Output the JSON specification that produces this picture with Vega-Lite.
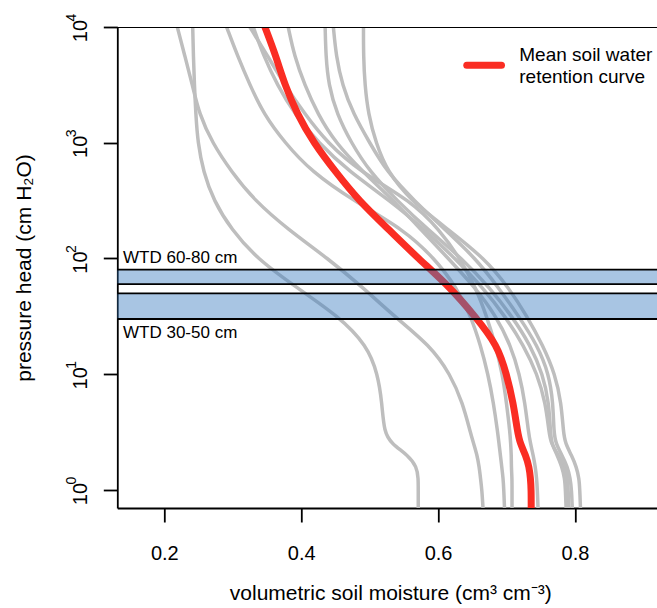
{
"$schema": "https://vega.github.io/schema/vega-lite/v6.json",
"width": 539.7, "height": 481,
"autosize": "none",
"padding": {"left": 117.3, "top": 27, "right": 0, "bottom": 100},
"background": "white",
"config": {"view": {"stroke": null}, "font": "Liberation Sans",
  "axis": {"domainColor": "black", "tickColor": "black", "labelColor": "black", "titleColor": "black", "domainWidth": 1.8, "tickWidth": 1.8, "grid": false, "titleFontWeight": "normal", "labelFlush": false, "labelOverlap": false, "labelBound": false}},
"datasets": {
"curves": [
{"c":"A","h":10000,"t":0.2415},{"c":"A","h":5623,"t":0.2425},{"c":"A","h":3162,"t":0.244},{"c":"A","h":1778,"t":0.246},{"c":"A","h":1000,"t":0.249},{"c":"A","h":562.3,"t":0.257},{"c":"A","h":316.2,"t":0.272},{"c":"A","h":177.8,"t":0.298},{"c":"A","h":100,"t":0.335},{"c":"A","h":56.23,"t":0.393},{"c":"A","h":31.62,"t":0.455},{"c":"A","h":17.78,"t":0.496},{"c":"A","h":10,"t":0.512},{"c":"A","h":5.623,"t":0.518},{"c":"A","h":3.162,"t":0.521},{"c":"A","h":2.512,"t":0.532},{"c":"A","h":1.995,"t":0.556},{"c":"A","h":1.585,"t":0.569},{"c":"A","h":1.259,"t":0.571},{"c":"A","h":1,"t":0.571},{"c":"A","h":0.699,"t":0.571},
{"c":"B","h":10000,"t":0.219},{"c":"B","h":5623,"t":0.230},{"c":"B","h":3162,"t":0.241},{"c":"B","h":1778,"t":0.251},{"c":"B","h":1000,"t":0.270},{"c":"B","h":562.3,"t":0.298},{"c":"B","h":316.2,"t":0.332},{"c":"B","h":177.8,"t":0.381},{"c":"B","h":100,"t":0.439},{"c":"B","h":56.23,"t":0.490},{"c":"B","h":31.62,"t":0.536},{"c":"B","h":17.78,"t":0.588},{"c":"B","h":10,"t":0.618},{"c":"B","h":5.623,"t":0.636},{"c":"B","h":3.162,"t":0.647},{"c":"B","h":2.512,"t":0.652},{"c":"B","h":1.995,"t":0.657},{"c":"B","h":1.585,"t":0.660},{"c":"B","h":1.259,"t":0.662},{"c":"B","h":1,"t":0.664},{"c":"B","h":0.699,"t":0.6656},
{"c":"C","h":10000,"t":0.291},{"c":"C","h":5623,"t":0.307},{"c":"C","h":3162,"t":0.325},{"c":"C","h":1778,"t":0.345},{"c":"C","h":1000,"t":0.376},{"c":"C","h":562.3,"t":0.415},{"c":"C","h":316.2,"t":0.476},{"c":"C","h":177.8,"t":0.55},{"c":"C","h":100,"t":0.595},{"c":"C","h":56.23,"t":0.627},{"c":"C","h":31.62,"t":0.648},{"c":"C","h":17.78,"t":0.662},{"c":"C","h":10,"t":0.673},{"c":"C","h":5.623,"t":0.681},{"c":"C","h":3.162,"t":0.687},{"c":"C","h":2.512,"t":0.689},{"c":"C","h":1.995,"t":0.691},{"c":"C","h":1.585,"t":0.693},{"c":"C","h":1.259,"t":0.695},{"c":"C","h":1,"t":0.696},{"c":"C","h":0.699,"t":0.697},
{"c":"D","h":10000,"t":0.325},{"c":"D","h":5623,"t":0.351},{"c":"D","h":3162,"t":0.376},{"c":"D","h":1778,"t":0.405},{"c":"D","h":1000,"t":0.438},{"c":"D","h":562.3,"t":0.486},{"c":"D","h":316.2,"t":0.560},{"c":"D","h":177.8,"t":0.602},{"c":"D","h":100,"t":0.632},{"c":"D","h":56.23,"t":0.655},{"c":"D","h":31.62,"t":0.671},{"c":"D","h":17.78,"t":0.684},{"c":"D","h":10,"t":0.694},{"c":"D","h":5.623,"t":0.700},{"c":"D","h":3.162,"t":0.705},{"c":"D","h":2.512,"t":0.706},{"c":"D","h":1.995,"t":0.707},{"c":"D","h":1.585,"t":0.707},{"c":"D","h":1.259,"t":0.708},{"c":"D","h":1,"t":0.708},{"c":"D","h":0.699,"t":0.708},
{"c":"D2","h":10000,"t":0.33},{"c":"D2","h":5623,"t":0.345},{"c":"D2","h":3162,"t":0.365},{"c":"D2","h":1778,"t":0.39},{"c":"D2","h":1000,"t":0.425},{"c":"D2","h":562.3,"t":0.47},{"c":"D2","h":316.2,"t":0.53},{"c":"D2","h":177.8,"t":0.58},{"c":"D2","h":100,"t":0.625},{"c":"D2","h":56.23,"t":0.665},{"c":"D2","h":31.62,"t":0.698},{"c":"D2","h":17.78,"t":0.725},{"c":"D2","h":10,"t":0.745},{"c":"D2","h":5.623,"t":0.757},{"c":"D2","h":3.162,"t":0.762},{"c":"D2","h":2.512,"t":0.765},{"c":"D2","h":1.995,"t":0.776},{"c":"D2","h":1.585,"t":0.785},{"c":"D2","h":1.259,"t":0.789},{"c":"D2","h":1,"t":0.790},{"c":"D2","h":0.699,"t":0.791},
{"c":"E","h":10000,"t":0.381},{"c":"E","h":5623,"t":0.390},{"c":"E","h":3162,"t":0.405},{"c":"E","h":1778,"t":0.424},{"c":"E","h":1000,"t":0.45},{"c":"E","h":562.3,"t":0.49},{"c":"E","h":316.2,"t":0.535},{"c":"E","h":177.8,"t":0.575},{"c":"E","h":100,"t":0.615},{"c":"E","h":56.23,"t":0.654},{"c":"E","h":31.62,"t":0.685},{"c":"E","h":17.78,"t":0.706},{"c":"E","h":10,"t":0.719},{"c":"E","h":5.623,"t":0.727},{"c":"E","h":3.162,"t":0.732},{"c":"E","h":2.512,"t":0.735},{"c":"E","h":1.995,"t":0.739},{"c":"E","h":1.585,"t":0.742},{"c":"E","h":1.259,"t":0.744},{"c":"E","h":1,"t":0.745},{"c":"E","h":0.699,"t":0.746},
{"c":"F","h":10000,"t":0.435},{"c":"F","h":5623,"t":0.436},{"c":"F","h":3162,"t":0.44},{"c":"F","h":1778,"t":0.452},{"c":"F","h":1000,"t":0.473},{"c":"F","h":562.3,"t":0.5},{"c":"F","h":316.2,"t":0.54},{"c":"F","h":177.8,"t":0.585},{"c":"F","h":100,"t":0.635},{"c":"F","h":56.23,"t":0.675},{"c":"F","h":31.62,"t":0.708},{"c":"F","h":17.78,"t":0.735},{"c":"F","h":10,"t":0.753},{"c":"F","h":5.623,"t":0.762},{"c":"F","h":3.162,"t":0.764},{"c":"F","h":2.512,"t":0.766},{"c":"F","h":1.995,"t":0.774},{"c":"F","h":1.585,"t":0.781},{"c":"F","h":1.259,"t":0.785},{"c":"F","h":1,"t":0.786},{"c":"F","h":0.699,"t":0.787},
{"c":"G","h":10000,"t":0.447},{"c":"G","h":5623,"t":0.451},{"c":"G","h":3162,"t":0.46},{"c":"G","h":1778,"t":0.476},{"c":"G","h":1000,"t":0.5},{"c":"G","h":562.3,"t":0.525},{"c":"G","h":316.2,"t":0.565},{"c":"G","h":177.8,"t":0.61},{"c":"G","h":100,"t":0.655},{"c":"G","h":56.23,"t":0.688},{"c":"G","h":31.62,"t":0.718},{"c":"G","h":17.78,"t":0.745},{"c":"G","h":10,"t":0.762},{"c":"G","h":5.623,"t":0.768},{"c":"G","h":3.162,"t":0.769},{"c":"G","h":2.512,"t":0.772},{"c":"G","h":1.995,"t":0.781},{"c":"G","h":1.585,"t":0.789},{"c":"G","h":1.259,"t":0.793},{"c":"G","h":1,"t":0.795},{"c":"G","h":0.699,"t":0.796},
{"c":"H","h":10000,"t":0.491},{"c":"H","h":5623,"t":0.491},{"c":"H","h":3162,"t":0.493},{"c":"H","h":1778,"t":0.498},{"c":"H","h":1000,"t":0.509},{"c":"H","h":562.3,"t":0.526},{"c":"H","h":316.2,"t":0.56},{"c":"H","h":177.8,"t":0.615},{"c":"H","h":100,"t":0.668},{"c":"H","h":56.23,"t":0.703},{"c":"H","h":31.62,"t":0.73},{"c":"H","h":17.78,"t":0.753},{"c":"H","h":10,"t":0.771},{"c":"H","h":5.623,"t":0.780},{"c":"H","h":3.162,"t":0.783},{"c":"H","h":2.512,"t":0.786},{"c":"H","h":1.995,"t":0.795},{"c":"H","h":1.585,"t":0.802},{"c":"H","h":1.259,"t":0.806},{"c":"H","h":1,"t":0.807},{"c":"H","h":0.699,"t":0.808}
],
"mean": [
{"c":"M","h":10000,"t":0.347},{"c":"M","h":5623,"t":0.363},{"c":"M","h":3162,"t":0.376},{"c":"M","h":1778,"t":0.394},{"c":"M","h":1000,"t":0.418},{"c":"M","h":562.3,"t":0.450},{"c":"M","h":316.2,"t":0.484},{"c":"M","h":177.8,"t":0.528},{"c":"M","h":100,"t":0.571},{"c":"M","h":56.23,"t":0.618},{"c":"M","h":31.62,"t":0.654},{"c":"M","h":17.78,"t":0.687},{"c":"M","h":10,"t":0.700},{"c":"M","h":5.623,"t":0.710},{"c":"M","h":3.162,"t":0.716},{"c":"M","h":2.512,"t":0.720},{"c":"M","h":1.995,"t":0.728},{"c":"M","h":1.585,"t":0.733},{"c":"M","h":1.259,"t":0.735},{"c":"M","h":1,"t":0.736},{"c":"M","h":0.699,"t":0.736}
],
"bands": [{"h":80,"h2":60,"t":0.1,"t2":0.95},{"h":50,"h2":30,"t":0.1,"t2":0.95}],
"border": [{"h":10000,"t":0.1},{"h":10000,"t":0.95}],
"wtd": [{"label":"WTD 60-80 cm","t":0.1397,"h":91.9},{"label":"WTD 30-50 cm","t":0.1397,"h":20.7}],
"legline": [{"h":4677,"t":0.6419},{"h":4677,"t":0.6926}],
"legtext": [{"label":"Mean soil water","t":0.7186,"h":5097},{"label":"retention curve","t":0.7186,"h":3251}],
"exps": [{"e":"0","h":1,"t":0.0715},{"e":"1","h":10,"t":0.0715},{"e":"2","h":100,"t":0.0715},{"e":"3","h":1000,"t":0.0715},{"e":"4","h":10000,"t":0.0715}]
},
"encoding": {
  "x": {"field": "t", "type": "quantitative",
    "scale": {"domain": [0.13134, 0.9198], "nice": false, "zero": false},
    "axis": {"values": [0.2, 0.4, 0.6, 0.8], "format": ".1f", "tickSize": 14, "labelPadding": 21, "labelFontSize": 20,
      "title": "volumetric soil moisture (cm³ cm⁻³)", "titleFontSize": 21, "titleBaseline": "alphabetic", "titleY": 91, "titleX": 273}},
  "y": {"field": "h", "type": "quantitative",
    "scale": {"type": "log", "domain": [0.699, 10000], "nice": false},
    "axis": {"values": [1, 10, 100, 1000, 10000],
      "labelExpr": "'10'", "labelOffset": 3.6,
      "labelAngle": -90, "labelAlign": "center", "labelBaseline": "bottom", "labelPadding": 13, "tickSize": 14, "labelFontSize": 20,
      "title": "pressure head (cm H₂O)", "titleFontSize": 21, "titleAngle": -90, "titleBaseline": "alphabetic", "titleAlign": "center", "titleX": -87, "titleY": 240.5}}
},
"layer": [
  {"data": {"name": "curves"}, "mark": {"type": "line", "stroke": "#bebebe", "strokeWidth": 3.5, "clip": true, "interpolate": "basis"},
   "encoding": {"detail": {"field": "c"}, "order": {"field": "h", "type": "quantitative", "sort": "descending"}}},
  {"data": {"name": "mean"}, "mark": {"type": "line", "stroke": "#fa2d23", "strokeWidth": 7, "strokeCap": "round", "clip": true, "interpolate": "basis"},
   "encoding": {"order": {"field": "h", "type": "quantitative", "sort": "descending"}}},
  {"data": {"name": "bands"}, "mark": {"type": "rect", "fill": "#3f7fc0", "fillOpacity": 0.45, "stroke": "black", "strokeWidth": 1.8, "clip": true},
   "encoding": {"x2": {"field": "t2"}, "y2": {"field": "h2"}}},
  {"data": {"name": "border"}, "mark": {"type": "line", "stroke": "black", "strokeWidth": 1.8, "clip": true}, "encoding": {}},
  {"data": {"name": "wtd"}, "mark": {"type": "text", "align": "left", "baseline": "alphabetic", "fontSize": 17, "color": "black"},
   "encoding": {"text": {"field": "label"}}},
  {"data": {"name": "legline"}, "mark": {"type": "line", "stroke": "#fa2d23", "strokeWidth": 7, "strokeCap": "round"}, "encoding": {}},
  {"data": {"name": "legtext"}, "mark": {"type": "text", "align": "left", "baseline": "alphabetic", "fontSize": 19, "color": "black"},
   "encoding": {"text": {"field": "label"}}},
  {"data": {"name": "exps"}, "mark": {"type": "text", "align": "center", "baseline": "alphabetic", "angle": -90, "dx": 9.5, "fontSize": 14, "color": "black"},
   "encoding": {"text": {"field": "e"}}}
]
}
